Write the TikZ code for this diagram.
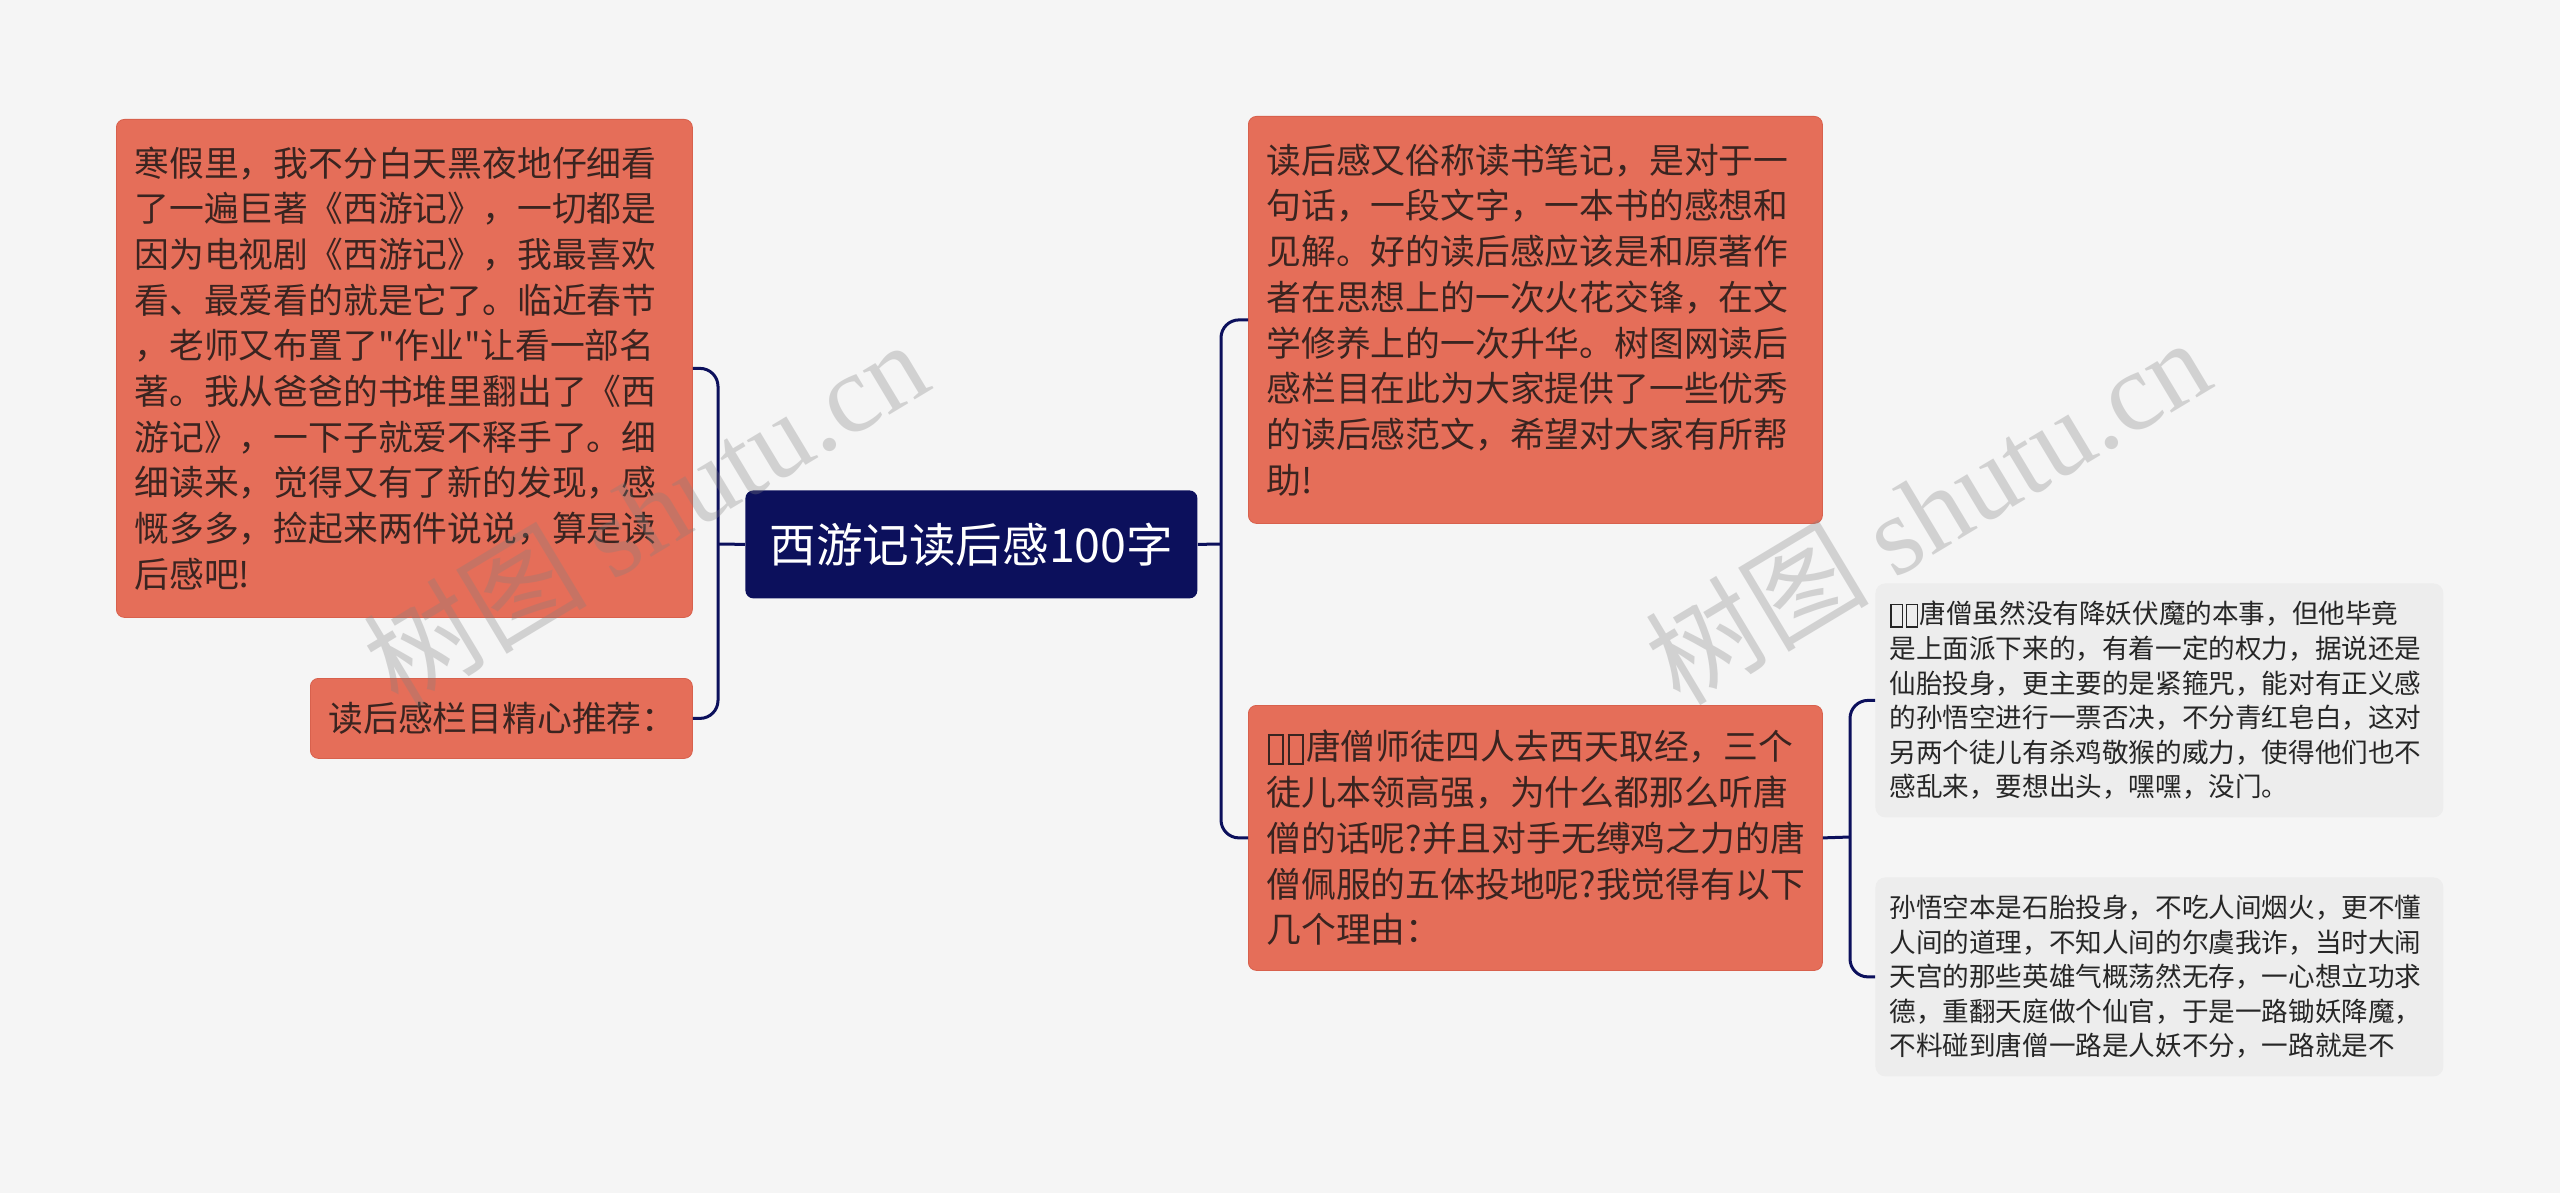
\documentclass[tikz,border=0pt]{standalone}
\usepackage{fontspec}
\setmainfont{Noto Sans CJK SC}[Ligatures=TeXOff]
\newfontfamily\markfont{Liberation Serif}
\definecolor{bgcol}{HTML}{F5F5F5}
\definecolor{navy}{HTML}{0C105C}
\definecolor{salmon}{HTML}{E56E59}
\definecolor{salmonline}{HTML}{D8614D}
\definecolor{leafgrey}{HTML}{EDEDED}
\definecolor{darkbrown}{HTML}{3A2420}
% missing-glyph box as printed in the source
\newcommand{\tofu}{\hspace{0.04em}\raisebox{-0.1em}{\fboxsep=0pt\fboxrule=0.055em\fbox{\rule{0pt}{0.8em}\rule{0.36em}{0pt}}}\hspace{0.06em}}

\begin{document}
\begin{tikzpicture}[x=0.5pt,y=-0.5pt,
            root node/.style={rectangle, rounded corners=4pt, fill=navy, text=white, anchor=north west, align=center, minimum width=226pt, minimum height=54pt, font=\fontsize{23.3}{28}\selectfont},
            topic node/.style={rectangle, rounded corners=4pt, fill=salmon, draw=salmonline, line width=0.4pt, text=darkbrown, anchor=north west, align=left, inner xsep=9pt, font=\fontsize{17.4}{22.85}\selectfont},
            leaf node/.style={rectangle, rounded corners=5pt, fill=leafgrey, text=black!85, anchor=north west, align=left, inner xsep=7pt, font=\fontsize{13.3}{17.3}\selectfont},
            link/.style={draw=navy, line width=1.5pt, rounded corners=9pt},
            watermark/.style={text=gray, opacity=0.3, rotate=31, font=\fontsize{56}{60}\selectfont}
    ]
        % Background
        \useasboundingbox[fill=bgcol] (0,0) rectangle (2560,1193);

        % Root
        \node[root node] (root) at (745,490) {西游记读后感100字};

        % Left Branch
        \node[topic node, text width=270pt, minimum width=288pt, minimum height=249pt] (lft_story) at (116,119) {寒假里，我不分白天黑夜地仔细看\\了一遍巨著《西游记》，一切都是\\因为电视剧《西游记》，我最喜欢\\看、最爱看的就是它了。临近春节\\，老师又布置了"作业"让看一部名\\著。我从爸爸的书堆里翻出了《西\\游记》，一下子就爱不释手了。细\\细读来，觉得又有了新的发现，感\\慨多多，捡起来两件说说，算是读\\后感吧!};
        \node[topic node, text width=173pt, minimum width=191pt, minimum height=40pt] (lft_recom) at (310,678) {读后感栏目精心推荐：};

        % Right Branch
        \node[topic node, text width=269pt, minimum width=287pt, minimum height=203.5pt] (rgt_intro) at (1248,116) {读后感又俗称读书笔记，是对于一\\句话，一段文字，一本书的感想和\\见解。好的读后感应该是和原著作\\者在思想上的一次火花交锋，在文\\学修养上的一次升华。树图网读后\\感栏目在此为大家提供了一些优秀\\的读后感范文，希望对大家有所帮\\助!};
        \node[topic node, text width=269pt, minimum width=287pt, minimum height=132.5pt] (rgt_why) at (1248,705) {\tofu\tofu 唐僧师徒四人去西天取经，三个\\徒儿本领高强，为什么都那么听唐\\僧的话呢?并且对手无缚鸡之力的唐\\僧佩服的五体投地呢?我觉得有以下\\几个理由：};

        % Reasons
        \node[leaf node, text width=270pt, minimum width=284pt, minimum height=117pt] (leaf_tang) at (1875,583) {\tofu\tofu 唐僧虽然没有降妖伏魔的本事，但他毕竟\\是上面派下来的，有着一定的权力，据说还是\\仙胎投身，更主要的是紧箍咒，能对有正义感\\的孙悟空进行一票否决，不分青红皂白，这对\\另两个徒儿有杀鸡敬猴的威力，使得他们也不\\感乱来，要想出头，嘿嘿，没门。};
        \node[leaf node, text width=270pt, minimum width=284pt, minimum height=99.5pt] (leaf_sun) at (1875,877) {孙悟空本是石胎投身，不吃人间烟火，更不懂\\人间的道理，不知人间的尔虞我诈，当时大闹\\天宫的那些英雄气概荡然无存，一心想立功求\\德，重翻天庭做个仙官，于是一路锄妖降魔，\\不料碰到唐僧一路是人妖不分，一路就是不};

        % Bracket joints
        \coordinate (brL) at (718,544);
        \coordinate (brR) at (1221,544);
        \coordinate (brS) at (1850,837);

        % Links
        \draw[link] (root.west) -- (brL);
        \draw[link] (lft_story.east) -| (brL) |- (lft_recom.east);
        \draw[link] (root.east) -- (brR);
        \draw[link] (rgt_intro.west) -| (brR) |- (rgt_why.west);
        \draw[link] (rgt_why.east) -- (brS);
        \draw[link] (leaf_tang.west) -| (brS) |- (leaf_sun.west);

        % Watermarks
        \node[watermark] (mark_l) at (645,512) {树图 {\markfont shutu.cn}};
        \node[watermark] (mark_r) at (1927,510) {树图 {\markfont shutu.cn}};

    \end{tikzpicture}
\end{document}
